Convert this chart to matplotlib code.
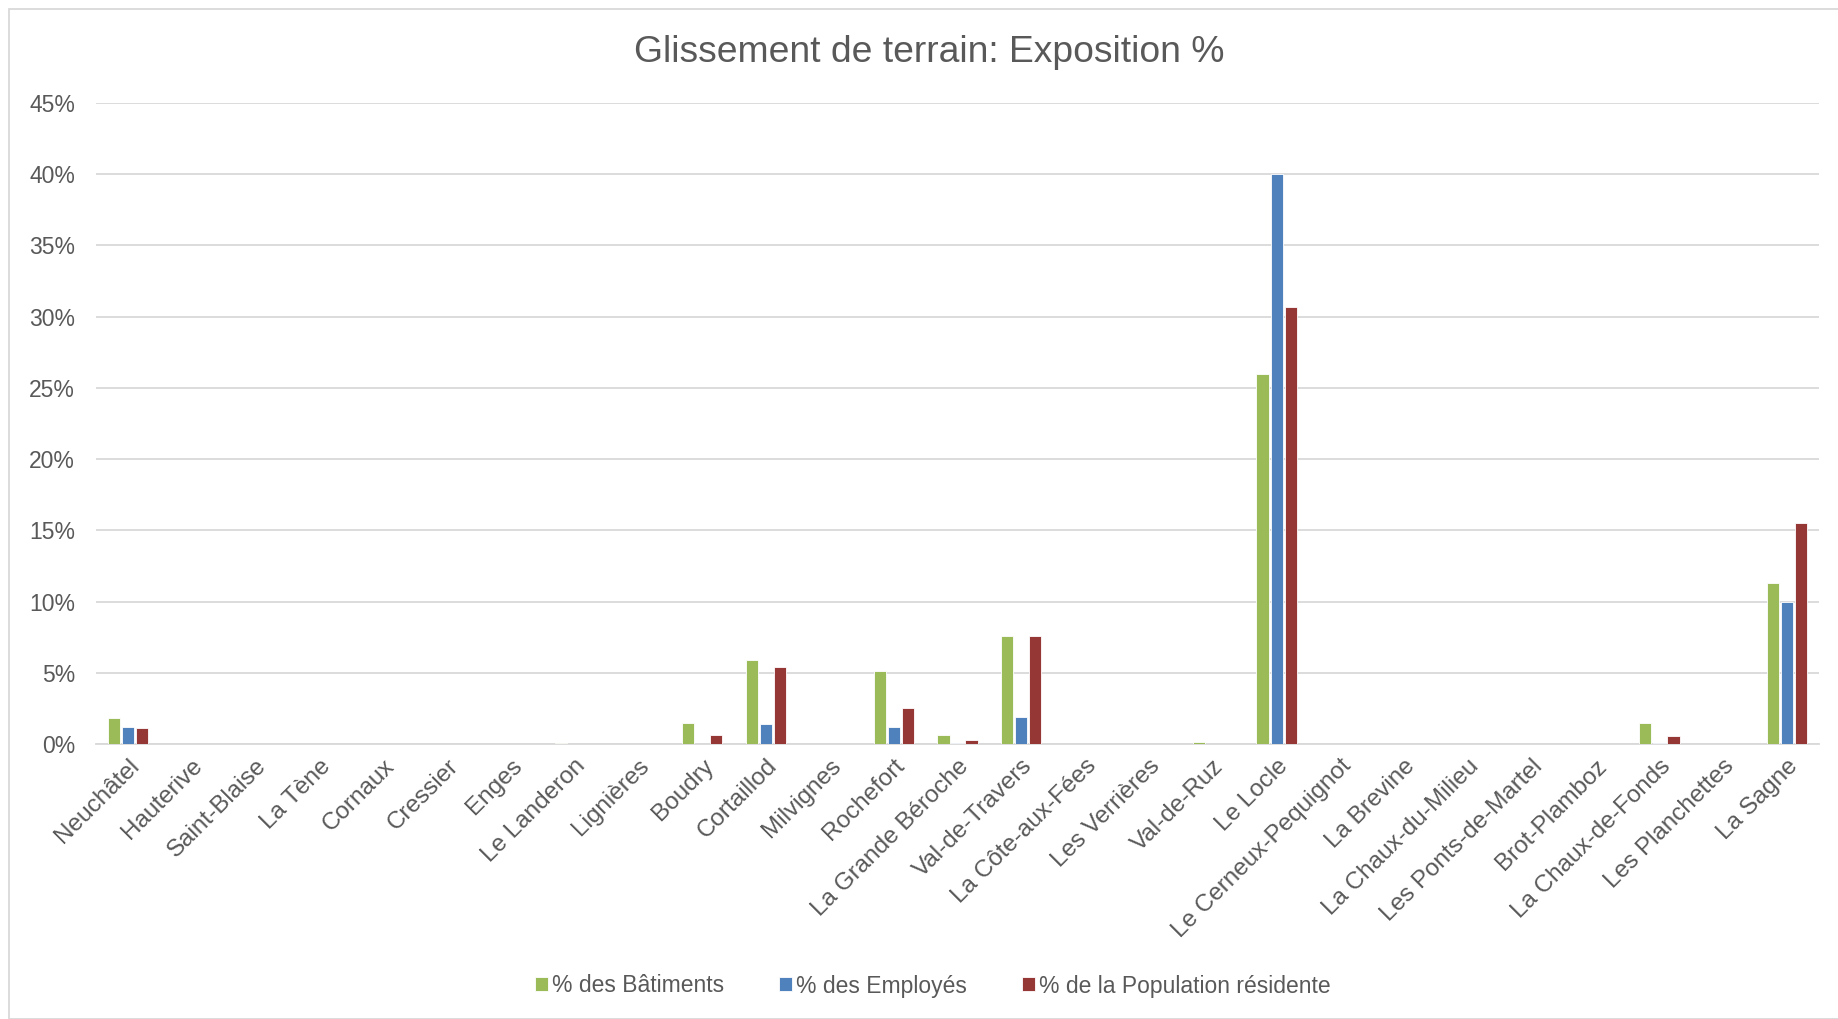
import numpy as np
import matplotlib
matplotlib.use("Agg")
import matplotlib.pyplot as plt
from matplotlib.patches import Rectangle
from matplotlib.ticker import PercentFormatter

plt.rcParams["font.family"] = ["Liberation Sans", "DejaVu Sans"]

# ---- data ----
communes = ["Neuchâtel", "Hauterive", "Saint-Blaise", "La Tène", "Cornaux", "Cressier",
            "Enges", "Le Landeron", "Lignières", "Boudry", "Cortaillod", "Milvignes",
            "Rochefort", "La Grande Béroche", "Val-de-Travers", "La Côte-aux-Fées",
            "Les Verrières", "Val-de-Ruz", "Le Locle", "Le Cerneux-Pequignot", "La Brevine",
            "La Chaux-du-Milieu", "Les Ponts-de-Martel", "Brot-Plamboz", "La Chaux-de-Fonds",
            "Les Planchettes", "La Sagne"]
batiments = [1.8, 0, 0, 0, 0, 0, 0, 0.1, 0, 1.5, 5.9, 0, 5.1, 0.65, 7.6, 0,
             0, 0.15, 26.0, 0, 0, 0, 0, 0, 1.5, 0, 11.3]
employes = [1.2, 0, 0, 0, 0, 0, 0, 0, 0, 0, 1.4, 0, 1.2, 0.05, 1.9, 0,
            0, 0, 40.0, 0, 0, 0, 0, 0, 0.1, 0, 10.0]
population = [1.15, 0, 0, 0, 0, 0, 0, 0, 0, 0.65, 5.4, 0, 2.55, 0.3, 7.55, 0,
              0, 0, 30.7, 0, 0, 0, 0, 0, 0.55, 0, 15.5]
series_names = ["% des Bâtiments", "% des Employés", "% de la Population résidente"]
colors = ["#9BBB59", "#4F81BD", "#953735"]

# ---- plot ----
W, H = 1838, 1019
fig = plt.figure(figsize=(W / 100, H / 100), dpi=100)
ax = fig.add_axes([96 / W, 1 - 744 / H, (1819 - 96) / W, (744 - 103) / H])

x = np.arange(len(communes))
width = 0.19
step = 0.22
for i, (vals, name, c) in enumerate(zip([batiments, employes, population], series_names, colors)):
    ax.bar(x + (i - 1) * step, vals, width=width, color=c, label=name,
           edgecolor="white", linewidth=0.6, zorder=3)

ax.set_xlim(-0.5, len(communes) - 0.5)
ax.set_ylim(0, 45)
ax.set_yticks(np.arange(0, 46, 5))
ax.yaxis.set_major_formatter(PercentFormatter(decimals=0))
ax.grid(axis="y", color="#D9D9D9", linewidth=1.3, zorder=0)
for s in ["top", "right", "left"]:
    ax.spines[s].set_visible(False)
ax.spines["bottom"].set_color("#D9D9D9")
ax.spines["bottom"].set_linewidth(1.3)
ax.tick_params(length=0, colors="#595959", labelsize=16.5)
ax.tick_params(axis="y", pad=15)
ax.set_xticks(x)
ax.set_xticklabels(communes, rotation=45, ha="right", rotation_mode="anchor", fontsize=17.5)
ax.tick_params(axis="x", pad=8)

fig.text(0.5057, 1 - 53 / H, "Glissement de terrain: Exposition %", ha="center", va="center",
         fontsize=26.8, color="#595959")

fig.legend(loc="center", bbox_to_anchor=(933 / W, 1 - 986 / H), ncol=3, frameon=False,
           fontsize=16.5, labelcolor="#595959", handlelength=0.55, handleheight=0.55,
           handletextpad=0.2, columnspacing=2.4)

# chart border
fig.patches.append(Rectangle((9 / W, 0.5 / H), 1.2, 1 - 9.5 / H, transform=fig.transFigure,
                             fill=False, edgecolor="#D9D9D9", linewidth=1.3))

fig.savefig("out.png", dpi=100)
